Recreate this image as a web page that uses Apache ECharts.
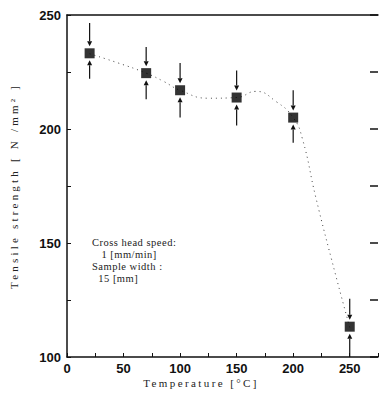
<!DOCTYPE html>
<html><head><meta charset="utf-8">
<script src="https://cdn.jsdelivr.net/npm/echarts@6/dist/echarts.min.js"></script>
<style>html,body{margin:0;padding:0;background:#fff;overflow:hidden}#c{width:381px;height:395px}</style>
</head><body><div id="c"></div>
<script>
// Measured points
const temps = [20, 70, 100, 150, 200, 250];
const strength = [233.2, 224.5, 217, 213.8, 205, 113.3];
// Scatter range arrows (upper start, lower start)
const upperArrow = [246.5, 236, 229, 225.7, 217, 125.6];
const lowerArrow = [222, 213, 205, 201.5, 194, 100];
// Fitted dotted curve
const curveX = [20, 45, 70, 85, 100, 125, 150, 167, 185, 200, 208, 220, 237, 250];
const curveY = [233, 229, 224.5, 221, 217, 213.5, 213.8, 216.5, 212, 205, 196, 170, 137, 113];
const xTicks = [0, 50, 100, 150, 200, 250];
const yTicks = [100, 150, 200, 250];
const xName = 'Temperature [°C]';
const yName = 'Tensile strength [ N /mm² ]';
const note = ['Cross head speed:', '   1 [mm/min]', 'Sample width :', '  15 [mm]'];

const tickFont = {fontFamily: '"Liberation Sans Narrow", "Liberation Sans", Arial', fontWeight: 'bold', fontSize: 13, color: '#111'};
const serif = '"Liberation Serif", "DejaVu Serif", serif';

const chart = echarts.init(document.getElementById('c'), null, {renderer: 'svg'});
chart.setOption({
  animation: false,
  backgroundColor: '#fff',
  grid: {left: 62, right: -3, top: 15, bottom: 38},
  xAxis: [{
    type: 'value', min: 0, max: 275, interval: 25,
    axisLine: {show: true, onZero: false, lineStyle: {color: '#111', width: 1.5}},
    axisTick: {show: true, inside: true, length: 4, lineStyle: {color: '#111'}},
    axisLabel: Object.assign({margin: 5, formatter: v => xTicks.includes(v) ? String(v) : ''}, tickFont),
    splitLine: {show: false}
  }, {
    type: 'value', min: 0, max: 275, position: 'top',
    axisLine: {show: true, onZero: false, lineStyle: {color: '#111', width: 1.5}},
    axisTick: {show: false}, axisLabel: {show: false}, splitLine: {show: false}
  }],
  yAxis: [{
    type: 'value', min: 100, max: 250, interval: 25,
    axisLine: {show: true, onZero: false, lineStyle: {color: '#111', width: 1.5}},
    axisTick: {show: true, inside: true, length: 4, lineStyle: {color: '#111'}},
    axisLabel: Object.assign({margin: 6, formatter: v => yTicks.includes(v) ? String(v) : ''}, tickFont),
    splitLine: {show: false},
    name: yName, nameLocation: 'middle', nameGap: 48,
    nameTextStyle: {fontFamily: serif, fontSize: 11, color: '#222'}
  }, {
    type: 'value', min: 100, max: 250, interval: 25, position: 'right',
    axisLine: {show: false, onZero: false},
    axisTick: {show: true, inside: true, length: 8, lineStyle: {color: '#111', width: 1.5}},
    axisLabel: {show: false}, splitLine: {show: false}
  }],
  graphic: [{
    type: 'text', left: 92, top: 236,
    style: {text: note.join('\n'), font: '10.5px ' + serif, fill: '#222', lineHeight: 12}
  }, {
    type: 'text', x: 201, y: 383,
    style: {text: xName, font: '11px ' + serif, fill: '#222', align: 'center', verticalAlign: 'middle'}
  }],
  series: [{
    type: 'line', smooth: 0.5, symbol: 'none',
    data: curveX.map((x, i) => [x, curveY[i]]),
    lineStyle: {color: '#444', width: 1, type: [1, 4]}, z: 1
  }, {
    type: 'custom',
    data: temps.map((t, i) => [t, strength[i], upperArrow[i], lowerArrow[i]]),
    renderItem: function (params, api) {
      const p = api.coord([api.value(0), api.value(1)]);
      const top = api.coord([api.value(0), api.value(2)]);
      const bot = api.coord([api.value(0), api.value(3)]);
      const x = p[0], gap = 7, ah = 5, aw = 2.5;
      const yTopEnd = p[1] - gap, yBotEnd = p[1] + gap;
      const st = {stroke: '#111', lineWidth: 1.2};
      return {type: 'group', children: [
        {type: 'line', shape: {x1: x, y1: top[1], x2: x, y2: yTopEnd - ah}, style: st},
        {type: 'polygon', shape: {points: [[x - aw, yTopEnd - ah], [x + aw, yTopEnd - ah], [x, yTopEnd]]}, style: {fill: '#111'}},
        {type: 'line', shape: {x1: x, y1: bot[1], x2: x, y2: yBotEnd + ah}, style: st},
        {type: 'polygon', shape: {points: [[x - aw, yBotEnd + ah], [x + aw, yBotEnd + ah], [x, yBotEnd]]}, style: {fill: '#111'}}
      ]};
    }, z: 2
  }, {
    type: 'scatter', symbol: 'rect', symbolSize: 10,
    data: temps.map((t, i) => [t, strength[i]]),
    itemStyle: {color: '#000'}, z: 3
  }]
});
// widen letter spacing of the serif texts like the scanned original
document.querySelectorAll('#c text').forEach(function (el) {
  const t = el.textContent;
  if (t === xName) el.style.letterSpacing = '2.4px';
  else if (t === yName) el.style.letterSpacing = '3.2px';
  else if (note.indexOf(t) >= 0) el.style.letterSpacing = '0.5px';
});
</script></body></html>
